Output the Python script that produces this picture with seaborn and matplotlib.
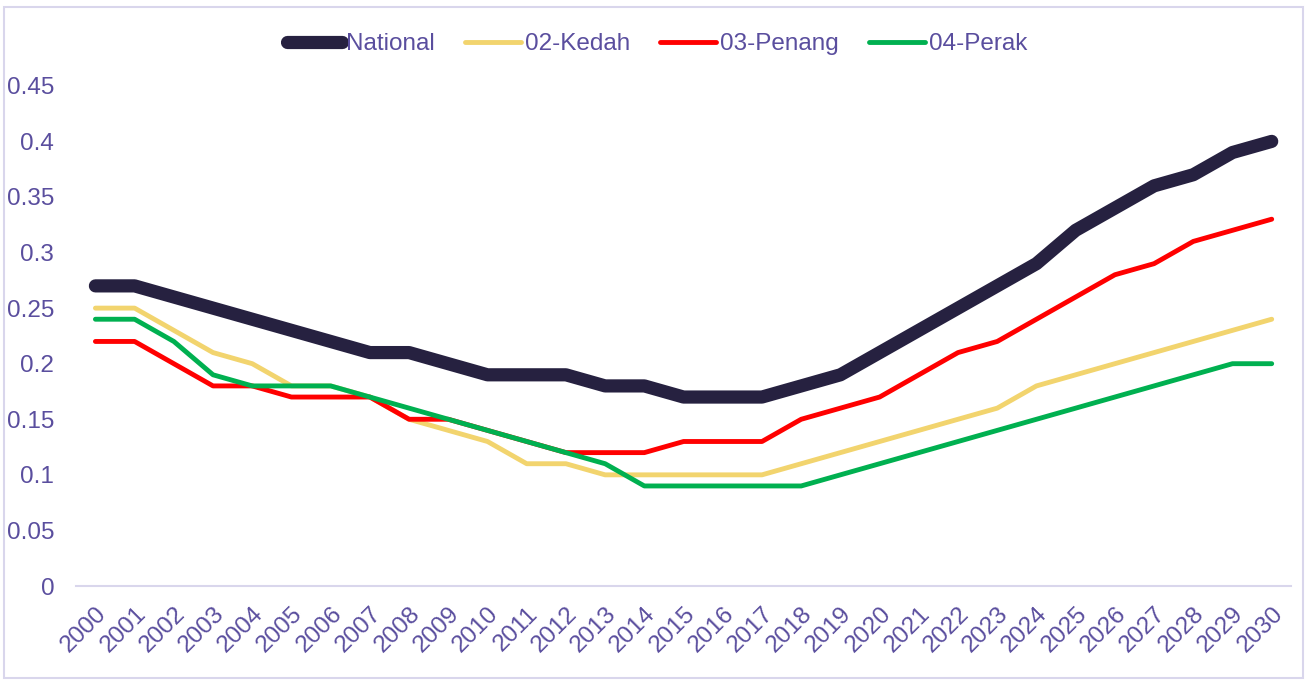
import pandas as pd
import matplotlib.pyplot as plt
import seaborn as sns
from matplotlib.patches import Rectangle

# Values
years = [str(y) for y in range(2000, 2031)]
national = [0.27, 0.27, 0.26, 0.25, 0.24, 0.23, 0.22, 0.21, 0.21, 0.20, 0.19,
            0.19, 0.19, 0.18, 0.18, 0.17, 0.17, 0.17, 0.18, 0.19, 0.21, 0.23,
            0.25, 0.27, 0.29, 0.32, 0.34, 0.36, 0.37, 0.39, 0.40]
kedah = [0.25, 0.25, 0.23, 0.21, 0.20, 0.18, 0.18, 0.17, 0.15, 0.14, 0.13,
         0.11, 0.11, 0.10, 0.10, 0.10, 0.10, 0.10, 0.11, 0.12, 0.13, 0.14,
         0.15, 0.16, 0.18, 0.19, 0.20, 0.21, 0.22, 0.23, 0.24]
penang = [0.22, 0.22, 0.20, 0.18, 0.18, 0.17, 0.17, 0.17, 0.15, 0.15, 0.14,
          0.13, 0.12, 0.12, 0.12, 0.13, 0.13, 0.13, 0.15, 0.16, 0.17, 0.19,
          0.21, 0.22, 0.24, 0.26, 0.28, 0.29, 0.31, 0.32, 0.33]
perak = [0.24, 0.24, 0.22, 0.19, 0.18, 0.18, 0.18, 0.17, 0.16, 0.15, 0.14,
         0.13, 0.12, 0.11, 0.09, 0.09, 0.09, 0.09, 0.09, 0.10, 0.11, 0.12,
         0.13, 0.14, 0.15, 0.16, 0.17, 0.18, 0.19, 0.20, 0.20]
series_names = ["National", "02-Kedah", "03-Penang", "04-Perak"]
y_ticks = [0, 0.05, 0.1, 0.15, 0.2, 0.25, 0.3, 0.35, 0.4, 0.45]
y_tick_labels = ["0", "0.05", "0.1", "0.15", "0.2", "0.25", "0.3", "0.35", "0.4", "0.45"]

colors = {"National": "#262140", "02-Kedah": "#F2D46E",
          "03-Penang": "#FF0000", "04-Perak": "#00B050"}
widths = {"National": 9.5, "02-Kedah": 3.5, "03-Penang": 3.5, "04-Perak": 3.5}
text_color = "#5A4E9E"
line_color = "#D9D6EC"

df = pd.DataFrame({"year": years, "National": national, "02-Kedah": kedah,
                   "03-Penang": penang, "04-Perak": perak})
df["pos"] = range(len(years))

sns.set_style("white")
plt.rcParams['font.family'] = ['Liberation Sans', 'DejaVu Sans']

fig = plt.figure(figsize=(13.07, 6.81), dpi=100)
ax = fig.add_axes([0.058, 0.1395, 0.930, 0.7345])

for name in series_names:
    sns.lineplot(data=df, x="pos", y=name, ax=ax, color=colors[name],
                 linewidth=widths[name], label=name,
                 solid_capstyle="round", solid_joinstyle="round")

ax.set_xlim(-0.5, len(years) - 0.5)
ax.set_ylim(0, 0.45)
ax.set_xticks(df["pos"])
ax.set_xticklabels(years, rotation=45, ha="right", rotation_mode="anchor")
ax.set_yticks(y_ticks)
ax.set_yticklabels(y_tick_labels)
ax.tick_params(axis="both", colors=text_color, labelsize=17.5, length=0)
ax.tick_params(axis="x", pad=12)
ax.tick_params(axis="y", pad=15.5)
ax.set_xlabel("")
ax.set_ylabel("")
for lbl in ax.get_xticklabels():
    lbl.set_x(lbl.get_position()[0])

for side in ["top", "right", "left"]:
    ax.spines[side].set_visible(False)
ax.spines["bottom"].set_color(line_color)
ax.spines["bottom"].set_linewidth(1.5)

leg = ax.legend(loc="center", bbox_to_anchor=(0.478, 1.083), ncol=4, frameon=False,
                fontsize=17.5, handlelength=2.3, handletextpad=0.15,
                columnspacing=1.25, labelcolor=text_color)

# light border around the whole figure
fig.patches.append(Rectangle((0.003, 0.004), 0.994, 0.986, transform=fig.transFigure,
                             fill=False, edgecolor=line_color, linewidth=1.5))

fig.savefig("out.png", dpi=100)
